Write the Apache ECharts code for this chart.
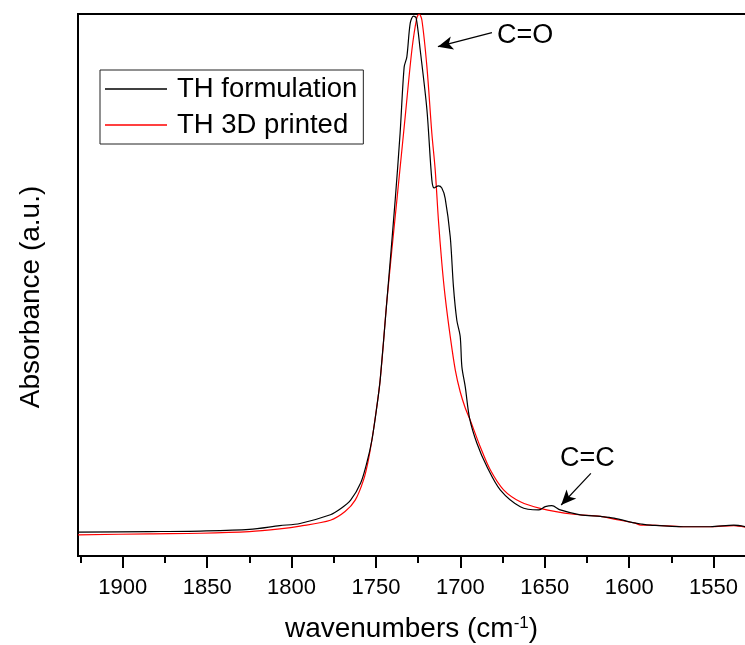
<!DOCTYPE html>
<html><head><meta charset="utf-8">
<script src="https://cdn.jsdelivr.net/npm/echarts@6/dist/echarts.min.js"></script>
<style>html,body{margin:0;padding:0;background:#fff}#c{width:745px;height:645px}</style>
</head><body><div id="c"></div>
<script>
// TH formulation (black)
const wnFormulation = [1926.5,1884,1854,1825,1807,1795,1777,1771,1765,1759,1755.4,1752.4,1749.5,1747.5,1743.5,1738.6,1735.7,1733.3,1731.7,1729.7,1727.8,1726.2,1723.8,1719.8,1716.9,1715.5,1713.0,1711.0,1709.0,1706.0,1704.1,1702.1,1700.1,1699.1,1697.1,1694.6,1690.2,1684.3,1676.4,1664.5,1653.7,1649.7,1645.8,1640.8,1629,1617,1609,1597,1593,1587.5,1568,1552,1538,1531];
const absFormulation = [0.044,0.045,0.046,0.049,0.056,0.060,0.076,0.087,0.103,0.135,0.172,0.214,0.275,0.325,0.472,0.657,0.780,0.902,0.921,0.983,0.996,0.993,0.934,0.823,0.694,0.679,0.683,0.679,0.660,0.589,0.497,0.435,0.405,0.349,0.312,0.255,0.208,0.165,0.122,0.091,0.085,0.091,0.093,0.085,0.076,0.073,0.070,0.061,0.059,0.057,0.054,0.054,0.057,0.054];
// TH 3D printed (red)
const wnPrinted = [1926.5,1884,1854,1825,1807,1795,1777,1768.3,1762.3,1757.4,1754.5,1751.5,1747.5,1743.5,1737.6,1732.7,1728.7,1725.8,1724.4,1722.8,1719.8,1716.9,1714.9,1713.0,1711.0,1709.0,1706.0,1703.0,1700.1,1697.1,1694.2,1688.3,1682.3,1674.4,1664.5,1652.7,1633,1617,1609,1597,1593,1587.5,1568,1552,1538,1531];
const absPrinted = [0.039,0.041,0.042,0.045,0.050,0.055,0.066,0.082,0.103,0.140,0.177,0.232,0.325,0.472,0.657,0.810,0.934,0.993,1.0,0.989,0.902,0.780,0.712,0.620,0.541,0.478,0.405,0.343,0.303,0.273,0.251,0.202,0.159,0.122,0.100,0.088,0.077,0.073,0.068,0.061,0.057,0.057,0.054,0.054,0.056,0.053];
const seriesNames = ['TH formulation','TH 3D printed'];
const majorTicks = [1900,1850,1800,1750,1700,1650,1600,1550];
const minorTicks = [1925,1875,1825,1775,1725,1675,1625,1575,1525];
// annotations: [label, arrow start [wn,abs], arrow end [wn,abs]]
const annoCO = ['C=O',[1681.3,0.9655],[1713.3,0.9397]];
const annoCC = ['C=C',[1622.7,0.1526],[1640.3,0.0941]];

const FONT = '"Liberation Sans", Arial, sans-serif';
const xMin = 1500, xMax = 1926.5;
const gridPos = {left:78, top:14, width:720, height:542, outerBoundsMode:'none', containLabel:false};
function pairs(xs, ys){ return xs.map((x,i)=>[x,ys[i]]); }
const chart = echarts.init(document.getElementById('c'), null, {renderer:'canvas'});
chart.setOption({
  animation:false,
  backgroundColor:'#fff',
  grid:[Object.assign({show:true,borderColor:'#000',borderWidth:2,backgroundColor:'transparent'},gridPos),
        Object.assign({show:false},gridPos)],
  legend:{
    orient:'vertical', left:100, top:70,
    data:seriesNames,
    icon:'path://M0,0H62V1.5H0Z', symbolKeepAspect:true,
    borderColor:'#222', borderWidth:1, padding:[5,6,5,5],
    itemWidth:62, itemHeight:14, itemGap:8,
    textStyle:{fontFamily:FONT,fontSize:27.5,color:'#000',lineHeight:27,padding:[0,0,0,5]},
  },
  xAxis:[{
    type:'value', gridIndex:0, inverse:true, min:xMin, max:xMax,
    name:'wavenumbers (cm{sup|-1})', nameLocation:'middle', nameGap:59,
    nameTextStyle:{fontFamily:FONT,fontSize:28,color:'#000',padding:[0,53,0,0],
      rich:{sup:{fontFamily:FONT,fontSize:17,color:'#000',verticalAlign:'top',padding:[0,0,10,0]}}},
    axisLine:{show:true,onZero:false,lineStyle:{color:'#000',width:2}},
    axisTick:{show:true,length:12,lineStyle:{color:'#000',width:2},customValues:majorTicks},
    axisLabel:{show:true,margin:21,fontFamily:FONT,fontSize:22,color:'#000',customValues:majorTicks,
      formatter:function(v){return String(v);}},
    splitLine:{show:false}
  },{
    type:'value', gridIndex:1, inverse:true, min:xMin, max:xMax,
    axisLine:{show:false},
    axisTick:{show:true,length:7,lineStyle:{color:'#000',width:2},customValues:minorTicks},
    axisLabel:{show:false}, splitLine:{show:false}
  }],
  yAxis:[{
    type:'value', gridIndex:0, min:0, max:1,
    name:'Absorbance (a.u.)', nameLocation:'middle', nameGap:33, nameRotate:90,
    nameTextStyle:{fontFamily:FONT,fontSize:28,color:'#000',padding:[0,24,0,0]},
    axisLine:{show:true,onZero:false,lineStyle:{color:'#000',width:2}},
    axisTick:{show:false}, axisLabel:{show:false}, splitLine:{show:false}
  },{
    type:'value', gridIndex:1, min:0, max:1, show:false
  }],
  series:[{
    name:seriesNames[0], type:'line', xAxisIndex:0, yAxisIndex:0,
    data:pairs(wnFormulation,absFormulation), symbol:'none', smooth:0.3,
    lineStyle:{color:'#000',width:1.2}, itemStyle:{color:'#000'}, z:3,
    markLine:{silent:true, symbol:['none','arrow'], symbolSize:[10,15],
      lineStyle:{color:'#000',width:1.2,type:'solid'}, label:{show:false},
      data:[[{coord:annoCO[1]},{coord:annoCO[2]}],[{coord:annoCC[1]},{coord:annoCC[2]}]]}
  },{
    name:seriesNames[1], type:'line', xAxisIndex:0, yAxisIndex:0,
    data:pairs(wnPrinted,absPrinted), symbol:'none', smooth:0.3,
    lineStyle:{color:'#ff0000',width:1.2}, itemStyle:{color:'#ff0000'}, z:2
  }],
  graphic:[
    {type:'text', left:497, top:22, style:{text:annoCO[0],fontFamily:FONT,fontSize:27,fill:'#000'}},
    {type:'text', left:560, top:445, style:{text:annoCC[0],fontFamily:FONT,fontSize:27,fill:'#000'}}
  ]
});
</script></body></html>
